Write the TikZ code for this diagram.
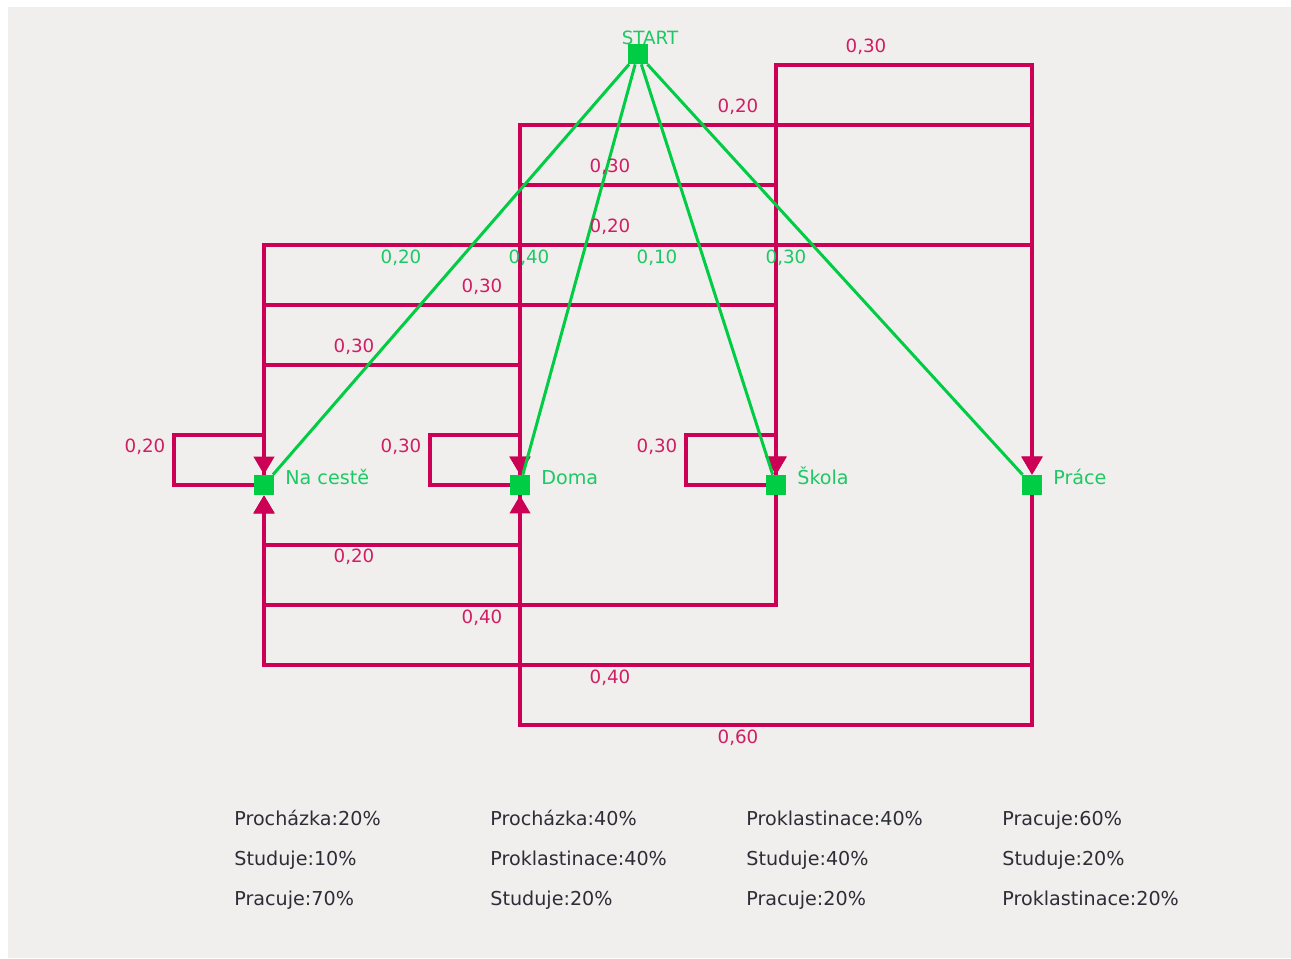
\documentclass[tikz,border=0pt]{standalone}
\usepackage{fontspec}
\setmainfont{DejaVu Sans}
\usetikzlibrary{arrows.meta}
\definecolor{bgc}{RGB}{241,239,237}
\definecolor{crim}{RGB}{204,0,85}
\definecolor{crimtxt}{RGB}{208,30,100}
\definecolor{grn}{RGB}{0,204,68}
\definecolor{grntxt}{RGB}{30,200,100}
\definecolor{txt}{RGB}{45,45,55}
\begin{document}
\begin{tikzpicture}[x=0.02cm,y=-0.02cm,line join=miter,>={Triangle[width=0.4cm,length=0.36cm]},font=\fontsize{10.4}{12}\selectfont,
	state/.style={fill=grn,draw=none,minimum size=0.4cm,inner sep=0pt},
	trans/.style={crim,line width=2.2pt},
	go/.style={grn,line width=1.7pt},
	plab/.style={text=crimtxt,inner sep=0pt},
	glab/.style={text=grntxt,inner sep=0pt},
	slab/.style={glab,anchor=base west,font=\fontsize{10.9}{12}\selectfont},
	info/.style={text=txt,anchor=base west,inner sep=0pt,font=\fontsize{10.9}{12}\selectfont}]
	\useasboundingbox (0,0) rectangle (1291,958);
	\fill[bgc] (8,7) rectangle (1291,958);
	% states
	\node[state] (start) at (638,54) {};
	\node[state] (nacest) at (264,485) {};
	\node[state] (doma) at (520,485) {};
	\node[state] (skola) at (776,485) {};
	\node[state] (prace) at (1032,485) {};
	\node[glab] (lstart) at (650,38) {START};
	\node[slab] (lnacest) at (285,484) {Na cestě};
	\node[slab] (ldoma) at (541,484) {Doma};
	\node[slab] (lskola) at (797,484) {Škola};
	\node[slab] (lprace) at (1053,484) {Práce};
	% prechody nahore
	\draw[trans,->] (skola.north) -- ++(0,-410) -| (prace.north);
	\draw[trans,->] (doma.north) -- ++(0,-350) -| (prace.north);
	\draw[trans,->] (doma.north) -- ++(0,-290) -| (skola.north);
	\draw[trans,->] (nacest.north) -- ++(0,-230) -| (prace.north);
	\draw[trans,->] (nacest.north) -- ++(0,-170) -| (skola.north);
	\draw[trans,->] (nacest.north) -- ++(0,-110) -| (doma.north);
	% smycky
	\draw[trans,->] (nacest.west) -| ++(-80,-50) -| (nacest.north);
	\draw[trans,->] (doma.west) -| ++(-80,-50) -| (doma.north);
	\draw[trans,->] (skola.west) -| ++(-80,-50) -| (skola.north);
	% prechody dole
	\draw[trans,->] (doma.south) -- ++(0,50) -| (nacest.south);
	\draw[trans,->] (skola.south) -- ++(0,110) -| (nacest.south);
	\draw[trans,->] (prace.south) -- ++(0,170) -| (nacest.south);
	\draw[trans,->] (prace.south) -- ++(0,230) -| (doma.south);
	% start
	\draw[go] (start) -- (nacest);
	\draw[go] (start) -- (doma);
	\draw[go] (start) -- (skola);
	\draw[go] (start) -- (prace);
	% popisky
	\node[plab] (p1) at (866,47) {0,30};
	\node[plab] (p2) at (738,107) {0,20};
	\node[plab] (p3) at (610,167) {0,30};
	\node[plab] (p4) at (610,227) {0,20};
	\node[plab] (p5) at (482,287) {0,30};
	\node[plab] (p6) at (354,347) {0,30};
	\node[plab] (p7) at (145,447) {0,20};
	\node[plab] (p8) at (401,447) {0,30};
	\node[plab] (p9) at (657,447) {0,30};
	\node[plab] (p10) at (354,557) {0,20};
	\node[plab] (p11) at (482,618) {0,40};
	\node[plab] (p12) at (610,678) {0,40};
	\node[plab] (p13) at (738,738) {0,60};
	\node[glab] (g1) at (401,258) {0,20};
	\node[glab] (g2) at (529,258) {0,40};
	\node[glab] (g3) at (657,258) {0,10};
	\node[glab] (g4) at (786,258) {0,30};
	% tabulka
	\node[info] (a1) at (234,825) {Procházka:20\%};
	\node[info] (a2) at (234,865) {Studuje:10\%};
	\node[info] (a3) at (234,905) {Pracuje:70\%};
	\node[info] (b1) at (490,825) {Procházka:40\%};
	\node[info] (b2) at (490,865) {Proklastinace:40\%};
	\node[info] (b3) at (490,905) {Studuje:20\%};
	\node[info] (c1) at (746,825) {Proklastinace:40\%};
	\node[info] (c2) at (746,865) {Studuje:40\%};
	\node[info] (c3) at (746,905) {Pracuje:20\%};
	\node[info] (d1) at (1002,825) {Pracuje:60\%};
	\node[info] (d2) at (1002,865) {Studuje:20\%};
	\node[info] (d3) at (1002,905) {Proklastinace:20\%};
\end{tikzpicture}
\end{document}
